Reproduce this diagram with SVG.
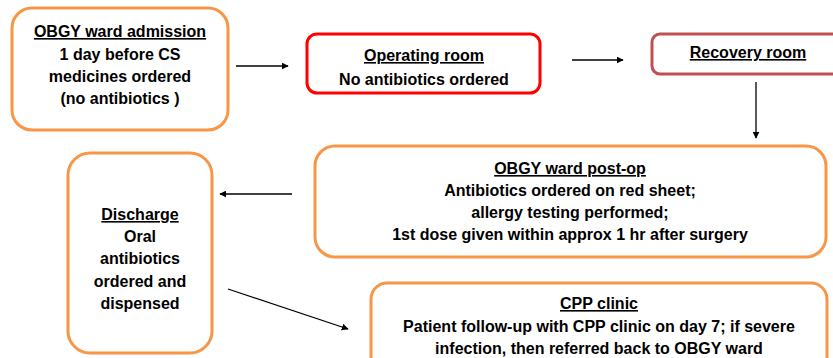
<svg xmlns="http://www.w3.org/2000/svg" width="833" height="358" viewBox="0 0 833 358">
<style>
.box{fill:#fff;stroke-width:3}
.or{stroke:#F79646}
.red{stroke:#FF0000}
.rec{stroke:#C0504D}
text{font-family:"Liberation Sans",Arial,sans-serif;font-weight:bold;font-size:16px;fill:#000;text-anchor:middle}
.u{text-decoration:underline}
.c{stroke:#000;stroke-width:1.3;fill:none;marker-end:url(#ah)}
</style>
<defs>
<marker id="ah" viewBox="0 0 10 10" refX="9" refY="5" markerWidth="7" markerHeight="7" markerUnits="userSpaceOnUse" orient="auto">
<path d="M0,0 L10,5 L0,10 z" fill="#000"/>
</marker>
</defs>
<rect width="833" height="358" fill="#fff"/>
<g id="admission">
<rect class="box or" x="12" y="8" width="216" height="122" rx="20"/>
<text x="120" y="37" class="u">OBGY ward admission</text>
<text x="120" y="60">1 day before CS</text>
<text x="120" y="82">medicines ordered</text>
<text x="120" y="104">(no antibiotics )</text>
</g>
<g id="operating">
<rect class="box red" x="307" y="34" width="233" height="59" rx="10"/>
<text x="424" y="61" class="u">Operating room</text>
<text x="424" y="85">No antibiotics ordered</text>
</g>
<g id="recovery">
<rect class="box rec" x="652" y="34" width="200" height="40" rx="8"/>
<text x="748" y="58" class="u">Recovery room</text>
</g>
<g id="postop">
<rect class="box or" x="315" y="146" width="511" height="111" rx="20"/>
<text x="570" y="174" class="u">OBGY ward post-op</text>
<text x="570" y="196">Antibiotics ordered on red sheet;</text>
<text x="570" y="218">allergy testing performed;</text>
<text x="570" y="240">1st dose given within approx 1 hr after surgery</text>
</g>
<g id="discharge">
<rect class="box or" x="68" y="153" width="144" height="200" rx="22"/>
<text x="140" y="220" class="u">Discharge</text>
<text x="140" y="242">Oral</text>
<text x="140" y="264">antibiotics</text>
<text x="140" y="287">ordered and</text>
<text x="140" y="309">dispensed</text>
</g>
<g id="cpp">
<rect class="box or" x="371" y="283" width="456" height="100" rx="16"/>
<text x="599" y="309" class="u">CPP clinic</text>
<text x="599" y="332">Patient follow-up with CPP clinic on day 7; if severe</text>
<text x="599" y="354">infection, then referred back to OBGY ward</text>
</g>
<g id="connectors">
<line class="c" x1="236" y1="66" x2="288" y2="66"/>
<line class="c" x1="572" y1="60" x2="623" y2="60"/>
<line class="c" x1="756" y1="82" x2="756" y2="138"/>
<line class="c" x1="292" y1="194" x2="220" y2="194"/>
<line class="c" x1="228" y1="289" x2="348" y2="329"/>
</g>
</svg>
